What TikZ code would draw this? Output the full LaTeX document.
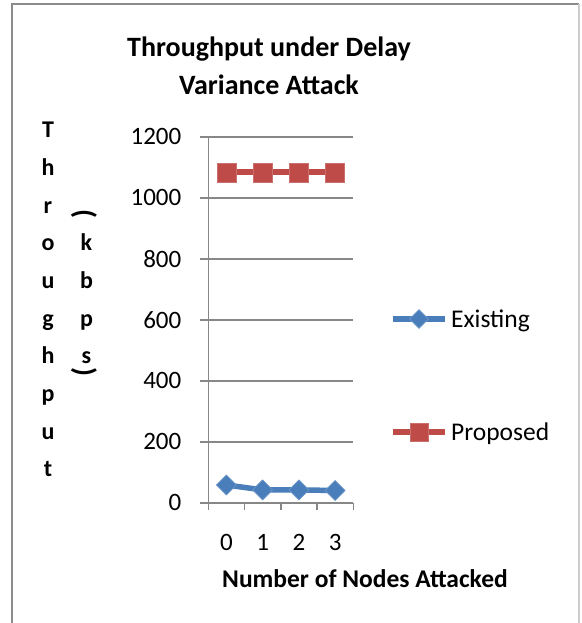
\documentclass[tikz,border=0pt]{standalone}
\usepackage{fontspec}
\setmainfont{Carlito}
\usetikzlibrary{shapes.geometric}
\definecolor{existc}{HTML}{4A7EBB}
\definecolor{propc}{HTML}{BE4B48}
\definecolor{gridc}{HTML}{878787}
\definecolor{framec}{HTML}{8C8C8C}
\begin{document}
\begin{tikzpicture}[x=1pt,y=-1pt,
  gridline/.style={draw=gridc,line width=1.6pt},
  ticklabel/.style={font=\fontsize{25}{25}\selectfont,inner sep=0pt},
  legendtext/.style={font=\fontsize{25.5}{25.5}\selectfont,inner sep=0pt,anchor=base west},
  titletext/.style={font=\bfseries\fontsize{28}{28}\selectfont,inner sep=0pt,anchor=base},
  axistitle/.style={font=\bfseries\fontsize{25.5}{25.5}\selectfont,inner sep=0pt,anchor=base},
  stackletter/.style={font=\bfseries\fontsize{24}{24}\selectfont,inner sep=0pt,anchor=base},
  stackparen/.style={font=\bfseries\fontsize{29}{29}\selectfont,inner sep=0pt,anchor=center,rotate=-90},
  diamondmark/.style={diamond,fill=existc,draw=existc!80!white,line width=0.6pt,minimum width=20pt,minimum height=20pt,inner sep=0pt},
  squaremark/.style={rectangle,fill=propc,draw=propc!80!white,line width=0.6pt,minimum width=19pt,minimum height=19pt,inner sep=0pt},
  existline/.style={draw=existc,line width=5.5pt},
  propline/.style={draw=propc,line width=6pt}]
\useasboundingbox (0,0) rectangle (581,623);
\fill[white] (0,0) rectangle (581,623);
% chart frame
\draw[framec,line width=2pt] (12,624) -- (12,4) -- (579,4);
\draw[black!20,line width=1.5pt] (579,4) -- (579,624);

% title
\node[titletext] (title1) at (269,57) {Throughput under Delay};
\node[titletext] (title2) at (269,95) {Variance Attack};

% horizontal gridlines and value labels
\foreach \v/\y in {0/502.7,200/441.7,400/380.7,600/319.7,800/258.7,1000/197.7,1200/136.7}{
  \draw[gridline] (200,\y) -- (353.3,\y);
  \node[ticklabel,anchor=east] (yl\v) at (181.5,\y) {\v};
}
% axes
\draw[gridline] (208.3,136.7) -- (208.3,510);
\foreach \x in {244.5,280.8,317,353.3}{
  \draw[gridline] (\x,502.7) -- (\x,510);
}
% category labels
\foreach \c/\x in {0/226.4,1/262.6,2/298.9,3/335.1}{
  \node[ticklabel,anchor=base] (xl\c) at (\x,550) {\c};
}

% axis titles
\node[axistitle] (xtitle) at (365,587) {Number of Nodes Attacked};
\foreach \ch [count=\i from 0] in {T,h,r,o,u,g,h,p,u,t}{
  \node[stackletter] (ya\i) at (48,137.7+37.67*\i) {\ch};
}
\node[stackparen] (ybopen) at (84,214.5) {(};
\foreach \ch [count=\i from 3] in {k,b,p,s}{
  \node[stackletter] (yb\i) at (86.5,137.7+37.67*\i) {\ch};
}
\node[stackparen] (ybclose) at (84,372) {)};

% Proposed series
\node[squaremark] (p0) at (226.4,172.4) {};
\node[squaremark] (p1) at (262.6,172.4) {};
\node[squaremark] (p2) at (298.9,172.4) {};
\node[squaremark] (p3) at (335.1,172.4) {};
\path[propline] (p0.center) -- (p1.center) -- (p2.center) -- (p3.center);
\foreach \i in {0,1,2,3}{\node[squaremark] at (p\i) {};}

% Existing series
\node[diamondmark] (e0) at (226.4,485.0) {};
\node[diamondmark] (e1) at (262.6,489.9) {};
\node[diamondmark] (e2) at (298.9,489.9) {};
\node[diamondmark] (e3) at (335.1,490.5) {};
\path[existline] (e0.center) -- (e1.center) -- (e2.center) -- (e3.center);
\foreach \i in {0,1,2,3}{\node[diamondmark] at (e\i) {};}

% legend
\coordinate (le0) at (393,319);
\coordinate (le1) at (445,319);
\path[existline] (le0) -- (le1);
\node[diamondmark,minimum width=19pt,minimum height=19pt] (lem) at (419,319) {};
\node[legendtext] (lex) at (451,327) {Existing};
\coordinate (lp0) at (393,432);
\coordinate (lp1) at (445,432);
\path[propline] (lp0) -- (lp1);
\node[squaremark,minimum width=18pt,minimum height=18pt] (lpm) at (419,432) {};
\node[legendtext] (lpx) at (451,440) {Proposed};
\end{tikzpicture}
\end{document}
